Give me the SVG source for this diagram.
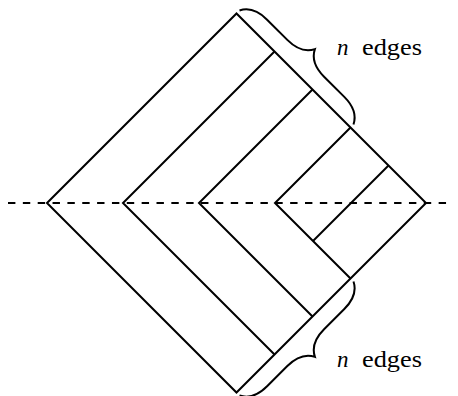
<svg xmlns="http://www.w3.org/2000/svg" width="458" height="396" viewBox="0 0 458 396">
<style>
.ln{fill:none;stroke:#000;stroke-width:2;stroke-linejoin:miter}
.br{fill:none;stroke:#000;stroke-width:2}
.dash{stroke:#000;stroke-width:2;stroke-dasharray:7.4 7.45}
text{font-family:'Liberation Serif','Times New Roman','DejaVu Serif',serif;font-size:23px;fill:#000}
</style>
<defs>
<path id="brace" class="br" d="M0,0 C3.9,-7.8 13,-13 26,-13 L54.6,-13 C67.6,-13 76.7,-18.2 80.6,-26 C84.5,-18.2 93.6,-13 106.6,-13 L135.2,-13 C148.2,-13 157.3,-7.8 161.2,0"/>
</defs>
<g id="axis">
<line class="dash" x1="8" y1="203" x2="451" y2="203"/>
</g>
<g id="diamond">
<path class="ln" d="M47,203 L236.5,13.5 L426,203 L236.5,392.5 Z"/>
</g>
<g id="connectors">
<polyline class="ln" points="274.5,51.5 123,203 274.5,354.5"/>
<polyline class="ln" points="312.5,89.5 199,203 312.5,316.5"/>
<polyline class="ln" points="350.5,127.5 275,203 350.5,278.5"/>
<line class="ln" x1="388.5" y1="165.5" x2="313" y2="241"/>
</g>
<g id="brace-top">
<use href="#brace" transform="translate(239.5,10.5) rotate(45)"/>
<text y="55"><tspan font-style="italic" x="337">n</tspan><tspan x="362" textLength="60" lengthAdjust="spacingAndGlyphs">edges</tspan></text>
</g>
<g id="brace-bottom">
<use href="#brace" transform="translate(353.5,281.5) rotate(135)"/>
<text y="367"><tspan font-style="italic" x="337">n</tspan><tspan x="362" textLength="60" lengthAdjust="spacingAndGlyphs">edges</tspan></text>
</g>
</svg>
